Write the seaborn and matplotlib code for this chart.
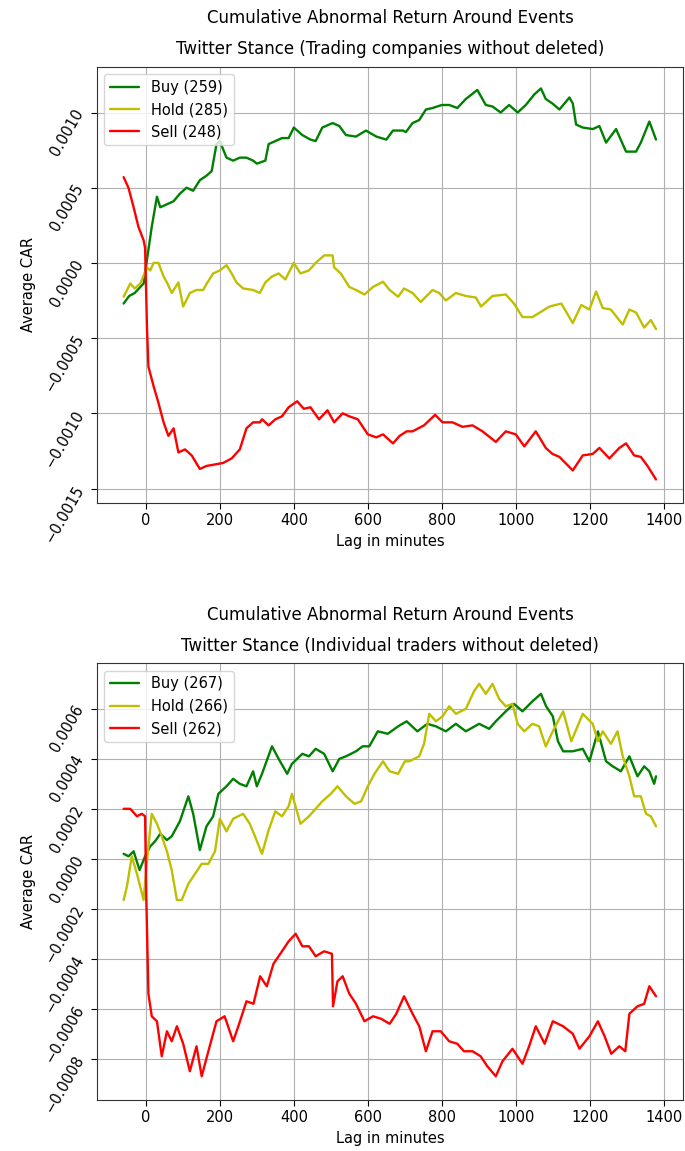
import matplotlib
matplotlib.use("Agg")
import matplotlib.pyplot as plt
import seaborn as sns
from matplotlib.ticker import MultipleLocator

# ---- data (lag in minutes, average CAR) ----
# top panel: trading companies
tc_buy_lag = [-60, -45, -30, -15, -6, 3, 16, 30, 39, 57, 75, 92, 110, 128, 146, 164, 178, 191, 200, 218,
              236, 254, 272, 290, 300, 323, 332, 350, 368, 386, 400, 423, 445, 459, 477, 505, 523, 541,
              568, 595, 623, 650, 668, 695, 703, 721, 739, 757, 775, 800, 820, 842, 865, 896, 919, 937,
              959, 982, 1005, 1027, 1050, 1068, 1081, 1099, 1118, 1145, 1154, 1163, 1181, 1208, 1226,
              1244, 1271, 1298, 1325, 1338, 1361, 1379]
tc_buy_car = [-0.00027, -0.00022, -0.0002, -0.00016, -0.000137, 0.00002, 0.00024, 0.00044, 0.00037,
              0.00039, 0.00041, 0.00046, 0.0005, 0.00048, 0.00055, 0.00058, 0.00061, 0.00079, 0.00081,
              0.0007, 0.00068, 0.0007, 0.0007, 0.00068, 0.00066, 0.00068, 0.00079, 0.00081, 0.00083,
              0.00083, 0.0009, 0.00085, 0.00082, 0.00081, 0.0009, 0.00093, 0.00091, 0.00085, 0.00084,
              0.00088, 0.00084, 0.00082, 0.00088, 0.00088, 0.00087, 0.00093, 0.00095, 0.00102, 0.00103,
              0.00105, 0.00105, 0.00103, 0.00109, 0.00115, 0.00105, 0.00104, 0.001, 0.00105, 0.001,
              0.00105, 0.00112, 0.00116, 0.00109, 0.00106, 0.00102, 0.0011, 0.00106, 0.00092, 0.0009,
              0.00089, 0.00091, 0.0008, 0.00089, 0.00074, 0.00074, 0.0008, 0.00094, 0.00082]

tc_hold_lag = [-60, -42, -30, -15, 3, 12, 21, 34, 48, 57, 70, 88, 101, 119, 137, 155, 164, 182, 200, 218,
               232, 245, 263, 290, 308, 323, 341, 359, 377, 400, 418, 441, 459, 482, 505, 509, 527, 550,
               568, 591, 614, 641, 659, 682, 698, 721, 743, 775, 793, 811, 838, 865, 892, 906, 937, 973,
               995, 1018, 1045, 1065, 1091, 1123, 1154, 1177, 1199, 1217, 1235, 1257, 1289, 1307, 1325,
               1347, 1365, 1379]
tc_hold_car = [-0.000225, -0.000137, -0.00017, -0.000137, -0.00003, -0.00005, 0.0, 0.0, -0.00009,
               -0.00013, -0.0002, -0.00013, -0.00029, -0.0002, -0.00018, -0.00018, -0.00014, -0.00007,
               -0.00005, -0.000015, -0.00007, -0.00013, -0.00017, -0.00018, -0.0002, -0.00013, -0.00009,
               -0.00007, -0.00011, 0.0, -0.00007, -0.00005, 0.0, 0.00005, 0.00005, -0.00003, -0.00007,
               -0.00016, -0.00018, -0.00021, -0.00016, -0.000125, -0.00018, -0.000225, -0.00017, -0.0002,
               -0.00026, -0.00018, -0.0002, -0.00025, -0.0002, -0.00022, -0.00023, -0.00029, -0.00022,
               -0.00021, -0.00027, -0.00036, -0.00036, -0.00033, -0.00029, -0.00027, -0.0004, -0.00028,
               -0.00031, -0.00019, -0.0003, -0.00031, -0.00041, -0.00031, -0.00033, -0.00043, -0.00038,
               -0.00044]

tc_sell_lag = [-60, -47, -33, -20, -6, -2, 3, 7, 21, 34, 48, 61, 75, 88, 106, 124, 146, 164, 187, 209,
               232, 254, 272, 290, 308, 314, 332, 350, 368, 386, 409, 427, 445, 468, 491, 509, 532, 550,
               573, 600, 623, 641, 668, 686, 705, 721, 752, 782, 802, 829, 856, 883, 910, 946, 973, 1000,
               1023, 1054, 1081, 1099, 1118, 1154, 1181, 1208, 1226, 1253, 1280, 1298, 1320, 1338, 1356,
               1379]
tc_sell_car = [0.00057, 0.0005, 0.00037, 0.00024, 0.00015, 0.0001, -0.00042, -0.00069, -0.00082, -0.00093,
               -0.00106, -0.00115, -0.0011, -0.00126, -0.00124, -0.00128, -0.00137, -0.00135, -0.00134,
               -0.00133, -0.0013, -0.00124, -0.0011, -0.00106, -0.00106, -0.00104, -0.00108, -0.00104,
               -0.00102, -0.00096, -0.00092, -0.00097, -0.00096, -0.00104, -0.00098, -0.00106, -0.001,
               -0.00102, -0.00104, -0.00114, -0.00116, -0.00114, -0.0012, -0.00115, -0.00112, -0.00112,
               -0.00108, -0.00101, -0.00106, -0.00106, -0.00109, -0.00108, -0.00112, -0.00119, -0.00112,
               -0.00114, -0.00122, -0.00112, -0.00123, -0.00127, -0.00129, -0.00138, -0.00128, -0.00127,
               -0.00123, -0.0013, -0.00123, -0.0012, -0.00128, -0.00129, -0.00135, -0.00144]

# bottom panel: individual traders
it_buy_lag = [-60, -47, -33, -17, -2, 12, 25, 39, 57, 70, 92, 115, 128, 146, 164, 182, 196, 218, 236, 254,
              272, 290, 300, 314, 341, 359, 382, 395, 423, 441, 459, 482, 505, 523, 541, 568, 586, 604,
              627, 654, 682, 705, 734, 761, 784, 811, 838, 865, 901, 928, 946, 973, 995, 1018, 1045,
              1068, 1082, 1100, 1114, 1128, 1154, 1181, 1199, 1222, 1244, 1262, 1284, 1307, 1329, 1347,
              1361, 1374, 1379]
it_buy_car = [0.00002, 0.00001, 0.00003, -0.000045, 0.00001, 0.00005, 0.00007, 0.0001, 0.000075, 0.00009,
              0.00015, 0.00025, 0.00018, 0.000035, 0.00013, 0.00017, 0.00026, 0.00029, 0.00032, 0.0003,
              0.00029, 0.00035, 0.00029, 0.00034, 0.00045, 0.0004, 0.00034, 0.00038, 0.00042, 0.00041,
              0.00044, 0.00042, 0.00035, 0.0004, 0.00041, 0.00043, 0.00045, 0.00045, 0.00051, 0.0005,
              0.00053, 0.00055, 0.00051, 0.00054, 0.00053, 0.00051, 0.00054, 0.00051, 0.00054, 0.00052,
              0.00055, 0.00059, 0.00062, 0.00059, 0.00063, 0.00066, 0.00061, 0.00057, 0.00047, 0.00043,
              0.00043, 0.00044, 0.00039, 0.00051, 0.00039, 0.00037, 0.00035, 0.00041, 0.00033, 0.00037,
              0.00035, 0.0003, 0.00033]

it_hold_lag = [-60, -51, -38, -24, -6, 3, 16, 30, 43, 57, 70, 84, 97, 115, 133, 151, 169, 187, 200, 218,
               236, 263, 281, 295, 314, 332, 350, 368, 386, 395, 418, 441, 459, 477, 500, 518, 541, 564,
               582, 600, 618, 641, 659, 682, 700, 712, 739, 752, 766, 784, 802, 820, 838, 865, 887, 901,
               919, 937, 955, 973, 991, 1005, 1023, 1045, 1063, 1081, 1100, 1128, 1150, 1181, 1208, 1222,
               1235, 1257, 1275, 1289, 1307, 1320, 1338, 1352, 1365, 1379]
it_hold_car = [-0.000165, -0.00011, 0.00001, -0.00006, -0.000165, -0.00001, 0.00018, 0.00014, 0.00009,
               0.00003, -0.000045, -0.000165, -0.000165, -0.0001, -0.00006, -0.00002, -0.00002, 0.00003,
               0.00016, 0.00011, 0.00016, 0.00018, 0.00014, 0.00009, 0.00002, 0.000115, 0.00019, 0.00017,
               0.00021, 0.00026, 0.00014, 0.00017, 0.0002, 0.00023, 0.00026, 0.00029, 0.00025, 0.00022,
               0.00023, 0.00029, 0.00034, 0.00039, 0.00035, 0.00034, 0.00039, 0.00039, 0.00041, 0.00046,
               0.00058, 0.00055, 0.00057, 0.00061, 0.00058, 0.0006, 0.00067, 0.0007, 0.00066, 0.0007,
               0.00064, 0.00061, 0.00062, 0.00054, 0.00051, 0.00054, 0.00053, 0.00045, 0.00051, 0.00059,
               0.00047, 0.00058, 0.00054, 0.00047, 0.00051, 0.00046, 0.00051, 0.00041, 0.00033, 0.00025,
               0.00025, 0.00018, 0.00017, 0.00013]

it_sell_lag = [-60, -42, -24, -11, -2, 1, 7, 16, 30, 43, 57, 70, 84, 101, 119, 137, 151, 169, 191, 213,
               236, 250, 272, 291, 309, 327, 345, 368, 386, 405, 423, 441, 459, 482, 503, 506, 518, 532,
               550, 568, 591, 614, 636, 659, 677, 698, 721, 739, 757, 775, 797, 820, 842, 860, 883, 905,
               923, 946, 964, 991, 1018, 1036, 1054, 1078, 1100, 1128, 1154, 1172, 1199, 1222, 1240, 1258,
               1280, 1296, 1307, 1329, 1347, 1361, 1370, 1379]
it_sell_car = [0.0002, 0.0002, 0.00017, 0.00018, 0.00017, -0.00014, -0.00054, -0.00063, -0.00065, -0.00079,
               -0.00069, -0.00073, -0.00067, -0.00074, -0.00085, -0.00075, -0.00087, -0.00077, -0.00065,
               -0.00063, -0.00073, -0.00067, -0.00057, -0.00058, -0.00047, -0.00051, -0.00042, -0.00037,
               -0.00033, -0.0003, -0.00035, -0.00035, -0.00039, -0.00037, -0.00038, -0.00059, -0.00049,
               -0.00047, -0.00054, -0.00058, -0.00065, -0.00063, -0.00064, -0.00066, -0.00062, -0.00055,
               -0.00062, -0.00067, -0.00077, -0.00069, -0.00069, -0.00073, -0.00074, -0.00077, -0.00077,
               -0.00079, -0.00083, -0.00087, -0.00081, -0.00076, -0.00082, -0.00075, -0.00067, -0.00074,
               -0.00065, -0.00067, -0.0007, -0.00076, -0.00071, -0.00065, -0.00071, -0.00078, -0.00075,
               -0.00077, -0.00062, -0.00059, -0.00058, -0.00051, -0.00053, -0.00055]

tc_counts = [259, 285, 248]
it_counts = [267, 266, 262]
stances = ["Buy", "Hold", "Sell"]
colors = ["g", "y", "r"]

# ---- style ----
sns.set_style("ticks", {"axes.grid": True, "grid.color": "#b0b0b0", "axes.edgecolor": "#333333"})
plt.rcParams["font.family"] = ["DejaVu Sans"]
plt.rcParams["font.size"] = 10
plt.rcParams["text.color"] = "black"
plt.rcParams["xtick.labelsize"] = 10.5
plt.rcParams["ytick.labelsize"] = 10.5
plt.rcParams["axes.labelsize"] = 10.5
plt.rcParams["xtick.color"] = "black"
plt.rcParams["ytick.color"] = "black"
plt.rcParams["axes.labelcolor"] = "black"

fig = plt.figure(figsize=(6.85, 11.51), dpi=100)
ax_top = fig.add_axes([0.1416, 0.5633, 0.8555, 0.3788])
ax_bot = fig.add_axes([0.1416, 0.0443, 0.8555, 0.3794])

panels = [
    (ax_top, "Trading companies without deleted",
     [(tc_buy_lag, tc_buy_car), (tc_hold_lag, tc_hold_car), (tc_sell_lag, tc_sell_car)],
     tc_counts, (-0.001594, 0.001305), 0.0005),
    (ax_bot, "Individual traders without deleted",
     [(it_buy_lag, it_buy_car), (it_hold_lag, it_hold_car), (it_sell_lag, it_sell_car)],
     it_counts, (-0.000965, 0.000782), 0.0002),
]

for ax, name, series, counts, ylim, ystep in panels:
    for (lag, car), stance, n, c in zip(series, stances, counts, colors):
        sns.lineplot(x=lag, y=car, color=c, linewidth=1.7, label=f"{stance} ({n})", ax=ax)
    ax.set_xlim(-132, 1452)
    ax.set_ylim(*ylim)
    ax.xaxis.set_major_locator(MultipleLocator(200))
    ax.yaxis.set_major_locator(MultipleLocator(ystep))
    ax.tick_params(axis="y", labelrotation=60)
    ax.tick_params(direction="out", length=4, color="black")
    ax.set_xlabel("Lag in minutes")
    ax.set_ylabel("Average CAR")
    ax.set_title(f"Cumulative Abnormal Return Around Events\nTwitter Stance ({name})",
                 fontsize=12, linespacing=1.95, pad=9, color="black")
    ax.legend(loc="upper left", fontsize=10.5, frameon=True, framealpha=0.8, edgecolor="#cccccc")

fig.savefig("out.png", dpi=100)
